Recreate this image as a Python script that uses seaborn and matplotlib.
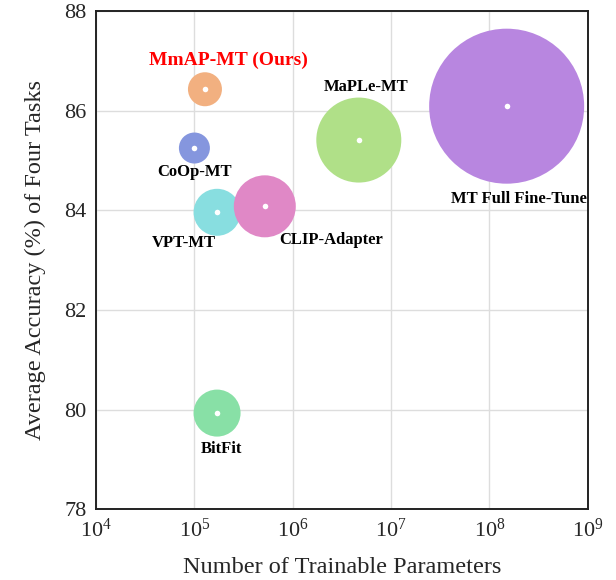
import pandas as pd
import seaborn as sns
import matplotlib.pyplot as plt

# --- data
methods = ['MmAP-MT (Ours)', 'CoOp-MT', 'VPT-MT', 'CLIP-Adapter', 'MaPLe-MT', 'MT Full Fine-Tune', 'BitFit']
params = [1.28e5, 1.0e5, 1.7e5, 5.2e5, 4.7e6, 1.5e8, 1.7e5]
accuracy = [86.43, 85.25, 83.96, 84.08, 85.41, 86.09, 79.93]

# --- styling
colors = ['#F2B080', '#8596DE', '#88DEE0', '#E088C6', '#B0E088', '#B886E0', '#88E0A6']
bubble_diam = [34, 31, 47, 62, 85, 155, 47]   # pixels
label_offset = [(17, 21), (0, -17), (-24, -22), (48, -24), (5, 38), (9, -67), (3, -26)]  # points

df = pd.DataFrame({'method': methods, 'params': params, 'acc': accuracy})

sns.set_style("whitegrid")
plt.rcParams['font.family'] = ['Liberation Serif', 'DejaVu Serif']
plt.rcParams['mathtext.fontset'] = 'custom'
plt.rcParams['mathtext.rm'] = 'Liberation Serif'

f = plt.figure(figsize=(6.16, 5.8), dpi=100)
ax = f.add_axes([0.156, 0.122, 0.798, 0.859])
ax.set_xscale('log')

sizes = {m: (d * 0.72) ** 2 for m, d in zip(methods, bubble_diam)}
sns.scatterplot(data=df, x='params', y='acc', hue='method', size='method',
                palette=dict(zip(methods, colors)), sizes=sizes,
                alpha=1, linewidth=0, legend=False, ax=ax, zorder=3)
sns.scatterplot(data=df, x='params', y='acc', color='white', s=16,
                linewidth=0, legend=False, ax=ax, zorder=4)

for m, x, y, off in zip(methods, params, accuracy, label_offset):
    red = m.startswith('MmAP')
    ax.annotate(m, xy=(x, y), xytext=off, textcoords='offset points',
                ha='center', va='center', fontweight='bold',
                fontsize=14 if red else 12, color='red' if red else 'black',
                zorder=5)

ax.set_xlim(1e4, 1e9)
ax.set_ylim(78, 88)
ax.set_yticks([78, 80, 82, 84, 86, 88])
ax.grid(which='major', color='#DDDDDD', linewidth=1)
ax.grid(which='minor', visible=False)
ax.minorticks_off()
ax.tick_params(labelsize=16, length=0, pad=7)
for s in ax.spines.values():
    s.set_color('#222222')
    s.set_linewidth(1.4)

ax.set_xlabel('Number of Trainable Parameters', fontsize=17.5, labelpad=11)
ax.set_ylabel('Average Accuracy (%) of Four Tasks', fontsize=17.5, labelpad=13)

plt.savefig('out.png', dpi=100)
